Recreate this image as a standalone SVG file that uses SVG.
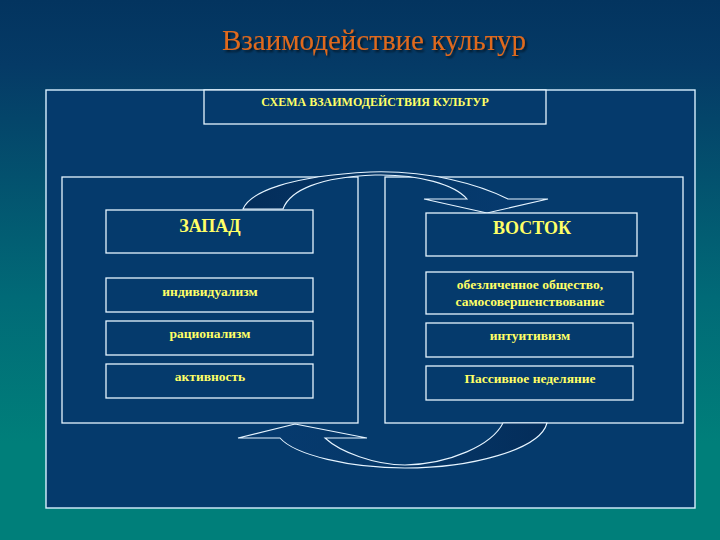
<svg xmlns="http://www.w3.org/2000/svg" width="720" height="540" viewBox="0 0 720 540">
<defs>
<linearGradient id="bg" x1="0" y1="0" x2="0" y2="1">
<stop offset="0" stop-color="#03345f"/>
<stop offset="0.12" stop-color="#053a66"/>
<stop offset="0.55" stop-color="#016a77"/>
<stop offset="0.82" stop-color="#007f7a"/>
<stop offset="1" stop-color="#007f7a"/>
</linearGradient>
<linearGradient id="topband" x1="243" y1="0" x2="510" y2="0" gradientUnits="userSpaceOnUse">
<stop offset="0" stop-color="#042d5a"/>
<stop offset="0.6" stop-color="#053768"/>
<stop offset="1" stop-color="#063a6e"/>
</linearGradient>
<linearGradient id="botband" x1="280" y1="0" x2="547" y2="0" gradientUnits="userSpaceOnUse">
<stop offset="0" stop-color="#063a6e"/>
<stop offset="0.45" stop-color="#053768"/>
<stop offset="1" stop-color="#042d5a"/>
</linearGradient>
<filter id="sh" x="-5%" y="-20%" width="110%" height="150%">
<feDropShadow dx="2" dy="2" stdDeviation="1" flood-color="#000000" flood-opacity="0.6"/>
</filter>
<style>
.frame{fill:#053a6c;stroke:#d8f0ff;stroke-width:1.4}
.box{fill:#053a6c;stroke:#e6f4ff;stroke-width:1.3}
.arrow{stroke:#e6f4ff;stroke-width:1.1;stroke-linejoin:miter}
.t{font-family:"Liberation Serif","Times New Roman",serif;font-weight:bold;fill:#ffff66;text-anchor:middle}
.big{font-size:18px}
.item{font-size:13.5px}
.hdr{font-size:12px}
.title{font-family:"Liberation Serif","Times New Roman",serif;font-size:29px;fill:#e0691c;text-anchor:middle}
</style>
</defs>
<rect x="0" y="0" width="720" height="540" fill="url(#bg)"/>
<text class="title" x="374" y="50" filter="url(#sh)">Взаимодействие культур</text>

<g id="frame">
<rect class="frame" x="46" y="90" width="649" height="418"/>
</g>
<g id="header">
<rect class="box" x="204" y="90" width="342" height="34"/>
<text class="t hdr" x="375" y="106">СХЕМА ВЗАИМОДЕЙСТВИЯ КУЛЬТУР</text>
</g>
<g id="panel-west">
<rect class="box" x="62" y="177" width="296" height="246"/>
</g>
<g id="panel-east">
<rect class="box" x="385" y="177" width="298" height="246"/>
</g>

<g id="connectors">
<path class="arrow" fill="url(#topband)" d="M243,209 C250,192 290,176 370,172 C430,170 480,185 508,199 L548,199 L487,213 L424,199 L467,199 C455,185 420,174 375,175 C320,177 290,190 283,209 Z"/>
<path class="arrow" fill="url(#botband)" d="M295,424 L367,438 L325,438 C340,452 375,465 405,465 C450,464 492,445 503,423 L547,423 C540,450 470,468 405,468 C350,468 295,455 280,438 L238,438 Z"/>
</g>

<g id="west">
<rect class="box" x="106" y="210" width="207" height="43"/>
<text class="t big" x="210" y="232">ЗАПАД</text>
</g>
<g id="west-1">
<rect class="box" x="106" y="278" width="207" height="34"/>
<text class="t item" x="210" y="296">индивидуализм</text>
</g>
<g id="west-2">
<rect class="box" x="106" y="321" width="207" height="34"/>
<text class="t item" x="210" y="338">рационализм</text>
</g>
<g id="west-3">
<rect class="box" x="106" y="364" width="207" height="34"/>
<text class="t item" x="210" y="381">активность</text>
</g>

<g id="east">
<rect class="box" x="426" y="213" width="211" height="43"/>
<text class="t big" x="532" y="234">ВОСТОК</text>
</g>
<g id="east-1">
<rect class="box" x="426" y="272" width="207" height="42"/>
<text class="t item" x="530" y="289">обезличенное общество,</text>
<text class="t item" x="530" y="306">самосовершенствование</text>
</g>
<g id="east-2">
<rect class="box" x="426" y="323" width="207" height="34"/>
<text class="t item" x="530" y="340">интуитивизм</text>
</g>
<g id="east-3">
<rect class="box" x="426" y="366" width="207" height="34"/>
<text class="t item" x="530" y="383">Пассивное неделяние</text>
</g>
</svg>
